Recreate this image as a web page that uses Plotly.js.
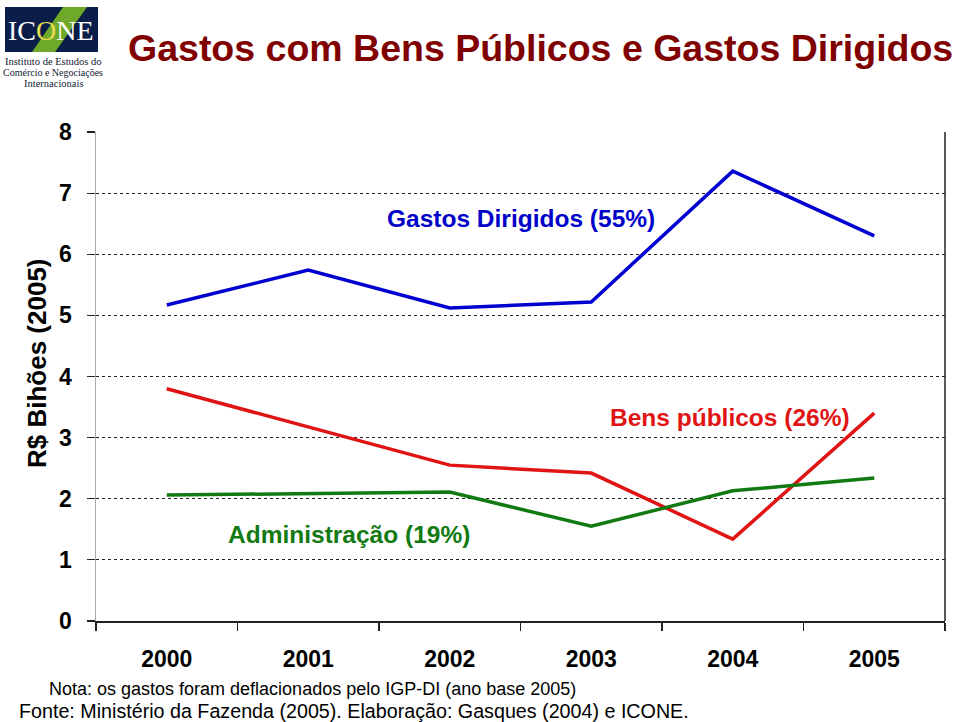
<!DOCTYPE html>
<html>
<head>
<meta charset="utf-8">
<script src="https://cdn.plot.ly/plotly-3.0.1.min.js"></script>
<style>html,body{margin:0;padding:0;background:#fff;}#chart{width:960px;height:722px;}</style>
</head>
<body>
<div id="chart"></div>
<script>
// Data
var years = ["2000", "2001", "2002", "2003", "2004", "2005"];
var gastosDirigidos = [5.17, 5.74, 5.12, 5.22, 7.36, 6.30];
var bensPublicos = [3.80, 3.17, 2.55, 2.42, 1.34, 3.40];
var administracao = [2.06, 2.08, 2.11, 1.55, 2.13, 2.34];
var yTicks = [0, 1, 2, 3, 4, 5, 6, 7, 8];

// Layout geometry (pixels)
var W = 960, H = 722;
var L = 96, R = 945, T = 132, B = 621;
function px(x) { return (x - L) / (R - L); }
function py(y) { return (B - y) / (B - T); }

var traces = [
  {x: years, y: gastosDirigidos, mode: "lines", line: {color: "#0000D0", width: 3.5}, hoverinfo: "skip"},
  {x: years, y: bensPublicos, mode: "lines", line: {color: "#E01414", width: 3.5}, hoverinfo: "skip"},
  {x: years, y: administracao, mode: "lines", line: {color: "#127A12", width: 3.5}, hoverinfo: "skip"}
];

var arial = "Liberation Sans, Arial, sans-serif";
var serif = "Liberation Serif, Times New Roman, serif";

var annotations = [
  {xref: "paper", yref: "paper", x: px(540), y: py(48), text: "<b>Gastos com Bens Públicos e Gastos Dirigidos</b>",
   showarrow: false, font: {family: arial, size: 37.5, color: "#800000"}, xanchor: "center", yanchor: "middle"},
  {xref: "paper", yref: "paper", x: px(37), y: py(363), text: "<b>R$ Bihões (2005)</b>", textangle: -90,
   showarrow: false, font: {family: arial, size: 26, color: "#000"}, xanchor: "center", yanchor: "middle"},
  {xref: "paper", yref: "paper", x: px(521), y: py(218), text: "<b>Gastos Dirigidos (55%)</b>",
   showarrow: false, font: {family: arial, size: 24.5, color: "#0000C8"}, xanchor: "center", yanchor: "middle"},
  {xref: "paper", yref: "paper", x: px(730), y: py(417), text: "<b>Bens públicos (26%)</b>",
   showarrow: false, font: {family: arial, size: 24.5, color: "#E01414"}, xanchor: "center", yanchor: "middle"},
  {xref: "paper", yref: "paper", x: px(349), y: py(534), text: "<b>Administração (19%)</b>",
   showarrow: false, font: {family: arial, size: 24.5, color: "#127A12"}, xanchor: "center", yanchor: "middle"},
  {xref: "paper", yref: "paper", x: px(47), y: py(689), text: "Nota: os gastos foram deflacionados pelo IGP-DI (ano base 2005)",
   showarrow: false, font: {family: arial, size: 18, color: "#000"}, xanchor: "left", yanchor: "middle"},
  {xref: "paper", yref: "paper", x: px(17), y: py(711), text: "Fonte: Ministério da Fazenda (2005). Elaboração: Gasques (2004) e ICONE.",
   showarrow: false, font: {family: arial, size: 19.7, color: "#000"}, xanchor: "left", yanchor: "middle"},
  // logo texts
  {xref: "paper", yref: "paper", x: px(51), y: py(30), text: "IC<span style='color:#E6DC50'>O</span>NE",
   showarrow: false, font: {family: serif, size: 28, color: "#ffffff"}, xanchor: "center", yanchor: "middle"},
  {xref: "paper", yref: "paper", x: px(53), y: py(61), text: "Instituto de Estudos do",
   showarrow: false, font: {family: serif, size: 10.5, color: "#111a33"}, xanchor: "center", yanchor: "middle"},
  {xref: "paper", yref: "paper", x: px(53), y: py(72), text: "Comércio e Negociações",
   showarrow: false, font: {family: serif, size: 10, color: "#111a33"}, xanchor: "center", yanchor: "middle"},
  {xref: "paper", yref: "paper", x: px(53), y: py(83), text: "Internacionais",
   showarrow: false, font: {family: serif, size: 10.5, color: "#111a33"}, xanchor: "center", yanchor: "middle"}
];

var shapes = [
  // logo background
  {type: "rect", xref: "paper", yref: "paper", x0: px(5), x1: px(98), y0: py(7), y1: py(52),
   fillcolor: "#0B1E4A", line: {width: 0}, layer: "below"},
  {type: "path", xref: "paper", yref: "paper",
   path: "M " + px(32) + " " + py(52) + " L " + px(55) + " " + py(52) + " L " + px(87) + " " + py(7) + " L " + px(63) + " " + py(7) + " Z",
   fillcolor: "#6FA92A", line: {width: 0}, layer: "below"},
  // right border
  {type: "line", xref: "paper", yref: "paper", x0: 1, x1: 1, y0: 0, y1: 1, line: {color: "#222", width: 1.5}}
];

var layout = {
  width: W, height: H,
  margin: {l: L, r: W - R, t: T, b: H - B, pad: 0},
  paper_bgcolor: "#fff", plot_bgcolor: "#fff",
  showlegend: false,
  font: {family: arial, color: "#000"},
  xaxis: {
    type: "category", range: [-0.5, 5.5], tickson: "boundaries",
    showgrid: false, zeroline: false,
    showline: true, linecolor: "#222", linewidth: 1.5,
    ticks: "outside", ticklen: 8, tickcolor: "#222", tickwidth: 1.2,
    tickfont: {family: arial, size: 23, color: "#000", weight: "bold"},
    ticklabelstandoff: 17, fixedrange: true
  },
  yaxis: {
    range: [0, 8], tickvals: yTicks, ticktext: yTicks.map(String),
    showgrid: true, gridcolor: "#222", gridwidth: 1, griddash: "dot",
    zeroline: false, showline: true, linecolor: "#AAAAAA", linewidth: 1.5,
    ticks: "outside", ticklen: 8, tickcolor: "#222", tickwidth: 1.2,
    tickfont: {family: arial, size: 23, color: "#000", weight: "bold"},
    ticklabelstandoff: 10, fixedrange: true
  },
  annotations: annotations,
  shapes: shapes
};

Plotly.newPlot("chart", traces, layout, {staticPlot: true, displayModeBar: false});
</script>
</body>
</html>
